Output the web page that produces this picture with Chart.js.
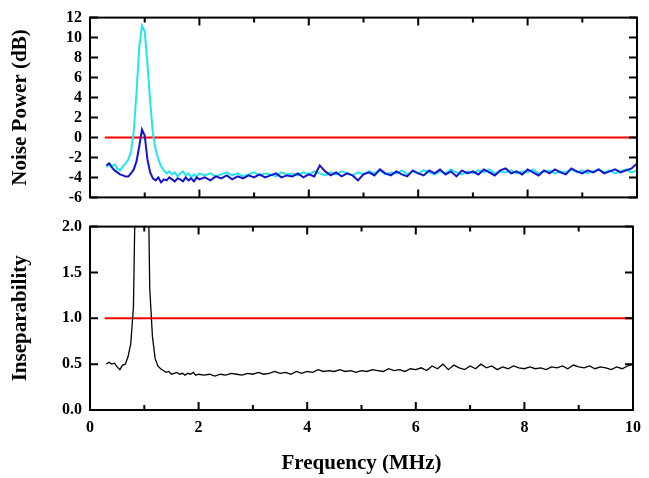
<!DOCTYPE html>
<html>
<head>
<meta charset="utf-8">
<script src="https://cdn.jsdelivr.net/npm/chart.js@4/dist/chart.umd.min.js"></script>
<style>
  body { margin: 0; background: #fff; }
  #wrap { position: relative; width: 649px; height: 478px; }
  canvas { position: absolute; left: 0; }
  #topChart { top: 0; }
  #bottomChart { top: 209px; }
</style>
</head>
<body>
<div id="wrap">
  <canvas id="topChart" width="649" height="215"></canvas>
  <canvas id="bottomChart" width="649" height="269"></canvas>
</div>
<script>
// frequency grid (MHz)
const freq = [0.30,0.35,0.40,0.45,0.50,0.55,0.60,0.65,0.70,0.75,0.80,0.85,0.90,0.95,1.00,1.05,1.10,1.15,1.20,1.25,
  1.30,1.35,1.40,1.45,1.50,1.55,1.60,1.65,1.70,1.75,1.80,1.85,1.90,1.95,2.00,
  2.1,2.2,2.3,2.4,2.5,2.6,2.7,2.8,2.9,3.0,3.1,3.2,3.3,3.4,3.5,3.6,3.7,3.8,3.9,4.0,
  4.1,4.2,4.3,4.4,4.5,4.6,4.7,4.8,4.9,5.0,5.1,5.2,5.3,5.4,5.5,5.6,5.7,5.8,5.9,6.0,
  6.1,6.2,6.3,6.4,6.5,6.6,6.7,6.8,6.9,7.0,7.1,7.2,7.3,7.4,7.5,7.6,7.7,7.8,7.9,8.0,
  8.1,8.2,8.3,8.4,8.5,8.6,8.7,8.8,8.9,9.0,9.1,9.2,9.3,9.4,9.5,9.6,9.7,9.8,9.9,10.0];

// noise power, cyan trace (dB)
const cyanPower = [-3.0,-2.6,-2.9,-2.7,-3.1,-3.3,-2.9,-2.6,-2.2,-1.4,0.6,4.5,9.0,11.2,10.6,7.4,3.6,0.4,-1.2,-2.2,
  -2.9,-3.3,-3.6,-3.4,-3.7,-3.5,-3.9,-3.6,-3.4,-3.8,-3.6,-4.0,-3.7,-3.9,-3.6,
  -3.8,-3.6,-3.9,-3.7,-3.5,-3.8,-3.6,-3.9,-3.7,-3.5,-3.8,-3.6,-3.7,-3.9,-3.5,-3.7,-3.6,-3.8,-3.5,-3.7,
  -3.4,-3.6,-3.8,-3.5,-3.7,-3.4,-3.6,-3.8,-3.5,-3.7,-3.4,-3.6,-3.3,-3.7,-3.5,-3.6,-3.3,-3.7,-3.4,-3.6,
  -3.3,-3.5,-3.7,-3.4,-3.6,-3.2,-3.5,-3.7,-3.4,-3.6,-3.3,-3.5,-3.2,-3.6,-3.4,-3.5,-3.3,-3.6,-3.4,-3.5,
  -3.2,-3.6,-3.4,-3.3,-3.6,-3.4,-3.5,-3.2,-3.5,-3.3,-3.6,-3.4,-3.2,-3.5,-3.3,-3.6,-3.4,-3.2,-3.5,-3.3];

// noise power, blue trace (dB)
const bluePower = [-2.8,-2.6,-3.0,-3.3,-3.5,-3.7,-3.8,-3.9,-3.9,-3.6,-3.2,-2.4,-0.9,0.8,0.2,-2.2,-3.5,-4.1,-4.3,-4.0,
  -4.5,-4.2,-4.3,-4.0,-4.2,-4.4,-4.1,-4.2,-4.4,-4.0,-4.3,-4.1,-4.4,-4.0,-4.2,
  -4.0,-4.3,-3.9,-4.1,-3.8,-4.2,-3.9,-4.1,-3.8,-4.0,-3.7,-4.0,-3.8,-3.6,-4.0,-3.8,-3.9,-3.6,-4.0,-3.7,
  -3.9,-2.8,-3.4,-3.8,-3.5,-3.9,-3.6,-3.8,-4.3,-3.7,-3.5,-3.8,-3.2,-3.6,-3.8,-3.4,-3.7,-3.9,-3.3,-3.6,
  -3.8,-3.3,-3.6,-3.2,-3.7,-3.4,-3.9,-3.3,-3.6,-3.4,-3.7,-3.2,-3.5,-3.8,-3.3,-3.1,-3.6,-3.4,-3.7,-3.2,
  -3.5,-3.8,-3.3,-3.6,-3.2,-3.5,-3.7,-3.1,-3.4,-3.6,-3.3,-3.5,-3.2,-3.6,-3.4,-3.2,-3.5,-3.3,-3.1,-2.6];

// inseparability (black trace)
const insep = [0.50,0.52,0.50,0.51,0.47,0.44,0.49,0.50,0.58,0.72,1.12,3.0,6.0,10.0,8.0,3.5,1.33,0.80,0.56,0.48,
  0.45,0.43,0.41,0.42,0.39,0.40,0.41,0.39,0.40,0.38,0.40,0.39,0.41,0.38,0.39,
  0.38,0.39,0.37,0.39,0.38,0.40,0.39,0.38,0.40,0.39,0.41,0.39,0.40,0.42,0.40,0.41,0.39,0.42,0.40,0.42,
  0.41,0.44,0.42,0.43,0.42,0.44,0.42,0.43,0.41,0.43,0.42,0.44,0.43,0.42,0.45,0.43,0.44,0.42,0.45,0.44,
  0.46,0.43,0.48,0.45,0.50,0.44,0.49,0.46,0.44,0.48,0.45,0.50,0.46,0.48,0.44,0.47,0.45,0.48,0.46,0.45,
  0.47,0.45,0.46,0.44,0.47,0.46,0.48,0.45,0.49,0.47,0.46,0.48,0.45,0.47,0.46,0.44,0.47,0.45,0.48,0.50];

// red reference levels
const refFreq = [0.27, 10];
const shotNoise = [0, 0];
const insepLimit = [1, 1];

const xTicks = [0, 2, 4, 6, 8, 10];

function pts(xs, ys) {
  return xs.map((x, i) => ({ x: x, y: ys[i] }));
}

const tickFont = { family: 'Liberation Serif', size: 16, weight: 'bold' };
const titleFont = { family: 'Liberation Serif', size: 21, weight: 'bold' };

// frame + inward ticks on all four sides
const frameTicks = {
  id: 'frameTicks',
  afterDraw(chart) {
    const { ctx, chartArea: a, scales } = chart;
    const x = scales.x, y = scales.y;
    ctx.save();
    ctx.strokeStyle = '#000';
    ctx.lineWidth = 2;
    ctx.strokeRect(a.left, a.top, a.right - a.left, a.bottom - a.top);
    ctx.beginPath();
    for (let v = 0; v <= 10; v++) {
      const px = x.getPixelForValue(v);
      const len = v % 2 === 0 ? 8 : 5;
      ctx.moveTo(px, a.bottom); ctx.lineTo(px, a.bottom - len);
      ctx.moveTo(px, a.top); ctx.lineTo(px, a.top + len);
    }
    y.ticks.forEach(t => {
      const py = y.getPixelForValue(t.value);
      ctx.moveTo(a.left, py); ctx.lineTo(a.left + 8, py);
      ctx.moveTo(a.right, py); ctx.lineTo(a.right - 8, py);
    });
    ctx.stroke();
    ctx.restore();
  }
};

const lineDefaults = { pointRadius: 0, tension: 0, fill: false };

new Chart(document.getElementById('topChart'), {
  type: 'line',
  data: {
    datasets: [
      { ...lineDefaults, data: pts(refFreq, shotNoise), borderColor: '#ff0000', borderWidth: 2, order: 3 },
      { ...lineDefaults, data: pts(freq, cyanPower), borderColor: '#22e6ee', borderWidth: 2, order: 2 },
      { ...lineDefaults, data: pts(freq, bluePower), borderColor: '#1414d2', borderWidth: 2, order: 1 }
    ]
  },
  options: {
    responsive: false,
    animation: false,
    layout: { padding: { top: 15, right: 12, bottom: 15, left: 0 } },
    plugins: { legend: { display: false }, tooltip: { enabled: false } },
    scales: {
      x: { type: 'linear', min: 0, max: 10, display: false },
      y: {
        min: -6, max: 12,
        ticks: { stepSize: 2, autoSkip: false, font: tickFont, color: '#000', padding: 8 },
        grid: { display: false, drawTicks: false },
        border: { display: false },
        title: { display: true, text: 'Noise Power (dB)', font: titleFont, color: '#000', padding: { top: 8 } },
        afterFit(s) { s.width = 90; }
      }
    }
  },
  plugins: [frameTicks]
});

new Chart(document.getElementById('bottomChart'), {
  type: 'line',
  data: {
    datasets: [
      { ...lineDefaults, data: pts(refFreq, insepLimit), borderColor: '#ff0000', borderWidth: 2, order: 2 },
      { ...lineDefaults, data: pts(freq, insep), borderColor: '#000000', borderWidth: 1.3, order: 1 }
    ]
  },
  options: {
    responsive: false,
    animation: false,
    layout: { padding: { top: 10, right: 12, bottom: 0, left: 0 } },
    plugins: { legend: { display: false }, tooltip: { enabled: false } },
    scales: {
      x: {
        type: 'linear', min: 0, max: 10,
        afterBuildTicks(s) { s.ticks = xTicks.map(v => ({ value: v })); },
        ticks: { font: tickFont, color: '#000', padding: 8, maxRotation: 0, autoSkip: false },
        grid: { display: false, drawTicks: false },
        border: { display: false },
        title: { display: true, text: 'Frequency (MHz)', font: titleFont, color: '#000', padding: { bottom: 2 } },
        afterFit(s) { s.height = 68; }
      },
      y: {
        min: 0, max: 2,
        ticks: { stepSize: 0.5, autoSkip: false, font: tickFont, color: '#000', padding: 8, callback: v => v.toFixed(1) },
        grid: { display: false, drawTicks: false },
        border: { display: false },
        title: { display: true, text: 'Inseparability', font: titleFont, color: '#000', padding: { top: 8 } },
        afterFit(s) { s.width = 90; }
      }
    }
  },
  plugins: [frameTicks]
});
</script>
</body>
</html>
